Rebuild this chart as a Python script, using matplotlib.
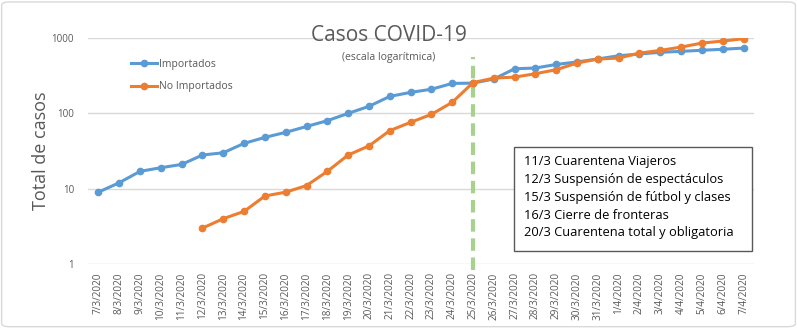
import matplotlib.pyplot as plt
import numpy as np
from matplotlib.patches import FancyBboxPatch, Rectangle

fechas = ['7/3/2020', '8/3/2020', '9/3/2020', '10/3/2020', '11/3/2020', '12/3/2020',
          '13/3/2020', '14/3/2020', '15/3/2020', '16/3/2020', '17/3/2020', '18/3/2020',
          '19/3/2020', '20/3/2020', '21/3/2020', '22/3/2020', '23/3/2020', '24/3/2020',
          '25/3/2020', '26/3/2020', '27/3/2020', '28/3/2020', '29/3/2020', '30/3/2020',
          '31/3/2020', '1/4/2020', '2/4/2020', '3/4/2020', '4/4/2020', '5/4/2020',
          '6/4/2020', '7/4/2020']

importados = [9, 12, 17, 19, 21, 28, 30, 40, 48, 56, 67, 80, 100, 124, 168, 190,
              209, 250, 252, 286, 391, 400, 446, 482, 528, 582, 615, 646, 666, 688,
              710, 736]

no_importados = [np.nan, np.nan, np.nan, np.nan, np.nan, 3, 4, 5, 8, 9, 11, 17, 28,
                 37, 59, 76, 97, 140, 256, 294, 303, 336, 380, 466, 526, 543, 631,
                 685, 759, 858, 912, 980]

medidas = ['11/3 Cuarentena Viajeros',
           '12/3 Suspensión de espectáculos',
           '15/3 Suspensión de fútbol y clases',
           '16/3 Cierre de fronteras',
           '20/3 Cuarentena total y obligatoria']

fecha_corte = '25/3/2020'

gris = '#595959'
plt.rcParams['font.family'] = ['Open Sans', 'DejaVu Sans']

fig = plt.figure(figsize=(7.97, 3.28), dpi=100)
ax = fig.add_axes([0.1104, 0.195, 0.8356, 0.689])

x = np.arange(len(fechas))
ax.plot(x, importados, color='#5B9BD5', lw=2.2, marker='o', ms=4.5, label='Importados')
ax.plot(x, no_importados, color='#ED7D31', lw=2.2, marker='o', ms=4.5, label='No Importados')

xc = fechas.index(fecha_corte)
ax.plot([xc, xc], [0.84, 560], color='#A9D18E', lw=3, ls=(0, (3, 1.6)),
        clip_on=False, zorder=1)

ax.set_yscale('log')
ax.set_ylim(1, 1000)
ax.set_xlim(-0.5, len(fechas) - 0.5)
ax.set_yticks([1, 10, 100, 1000])
ax.set_yticklabels(['1', '10', '100', '1000'])
ax.minorticks_off()
ax.set_xticks(x)
ax.set_xticklabels(fechas, rotation=90, fontsize=7.2, color=gris)
ax.tick_params(axis='y', labelsize=7, colors=gris, length=0, pad=10)
ax.tick_params(axis='x', length=0, pad=6)
ax.grid(axis='y', color='#d9d9d9', lw=1)
ax.set_axisbelow(True)
for s in ax.spines.values():
    s.set_visible(False)

ax.set_ylabel('Total de casos', fontsize=13, color=gris, labelpad=1)

leg = ax.legend(loc='upper left', bbox_to_anchor=(0.05, 0.95), frameon=False,
                fontsize=7.5, handlelength=2.5, labelspacing=1.1, handletextpad=0.2,
                labelcolor=gris)

fig.text(0.488, 0.893, 'Casos COVID-19', fontsize=15, color=gris, ha='center', va='center')
fig.text(0.488, 0.825, '(escala logarítmica)', fontsize=7.5, color=gris, ha='center', va='center')

# recuadro con las medidas
ax.add_patch(Rectangle((0.640, 0.059), 0.357, 0.460, transform=ax.transAxes,
                       fc='white', ec=gris, lw=1, zorder=5))
for i, m in enumerate(medidas):
    ax.text(0.655, 0.453 - i * 0.0788, m, transform=ax.transAxes, fontsize=9.3,
            color='black', va='center', ha='left', zorder=6)

fig.patches.append(FancyBboxPatch((0.002, 0.004), 0.996, 0.99, boxstyle='round,pad=0,rounding_size=0.01',
                                  transform=fig.transFigure, fc='none', ec='#d9d9d9', lw=1))

fig.savefig('out.png', dpi=100)
